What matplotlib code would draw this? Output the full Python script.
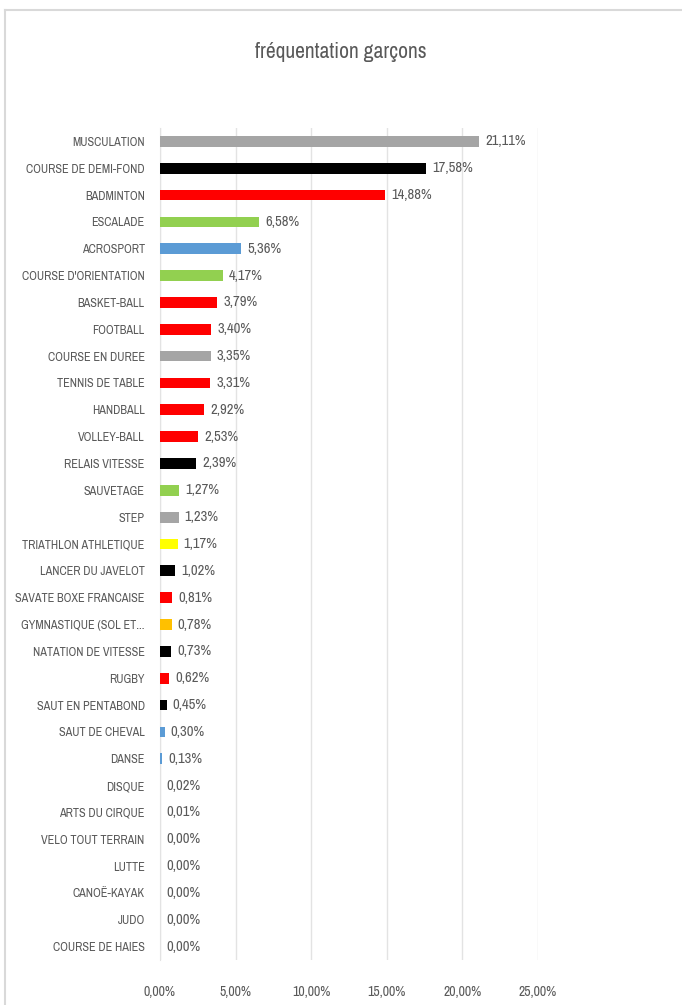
import matplotlib
matplotlib.use("Agg")
import matplotlib.pyplot as plt
from matplotlib import font_manager
from matplotlib.ticker import FuncFormatter

names = sorted({f.name for f in font_manager.fontManager.ttflist})
narrow = [n for n in names if "Narrow" in n]
family = narrow[0] if narrow else "DejaVu Sans"
plt.rcParams["font.family"] = [family, "DejaVu Sans"]

categories = [
  "MUSCULATION", "COURSE DE DEMI-FOND", "BADMINTON", "ESCALADE", "ACROSPORT",
  "COURSE D'ORIENTATION", "BASKET-BALL", "FOOTBALL", "COURSE EN DUREE",
  "TENNIS DE TABLE", "HANDBALL", "VOLLEY-BALL", "RELAIS VITESSE", "SAUVETAGE",
  "STEP", "TRIATHLON ATHLETIQUE", "LANCER DU JAVELOT", "SAVATE BOXE FRANCAISE",
  "GYMNASTIQUE (SOL ET...", "NATATION DE VITESSE", "RUGBY", "SAUT EN PENTABOND",
  "SAUT DE CHEVAL", "DANSE", "DISQUE", "ARTS DU CIRQUE", "VELO TOUT TERRAIN",
  "LUTTE", "CANOË-KAYAK", "JUDO", "COURSE DE HAIES",
]
values = [
  21.11, 17.58, 14.88, 6.58, 5.36, 4.17, 3.79, 3.40, 3.35, 3.31, 2.92, 2.53,
  2.39, 1.27, 1.23, 1.17, 1.02, 0.81, 0.78, 0.73, 0.62, 0.45, 0.30, 0.13,
  0.02, 0.01, 0.00, 0.00, 0.00, 0.00, 0.00,
]
colors = [
  "#A5A5A5", "#000000", "#FF0000", "#92D050", "#5B9BD5", "#92D050", "#FF0000",
  "#FF0000", "#A5A5A5", "#FF0000", "#FF0000", "#FF0000", "#000000", "#92D050",
  "#A5A5A5", "#FFFF00", "#000000", "#FF0000", "#FFC000", "#000000", "#FF0000",
  "#000000", "#5B9BD5", "#5B9BD5", "#5B9BD5", "#5B9BD5", "#5B9BD5", "#5B9BD5",
  "#5B9BD5", "#5B9BD5", "#5B9BD5",
]
xticks = [0, 5, 10, 15, 20, 25]

text_color = "#595959"
grid_color = "#E3E3E3"

fig = plt.figure(figsize=(6.82, 10.05), dpi=100)
ax = fig.add_axes([160 / 682, 1 - 960 / 1005, 378 / 682, 832 / 1005])

ypos = list(range(len(categories)))
ax.barh(ypos, values, height=0.4, color=colors, zorder=3)
for y, v in zip(ypos, values):
  ax.text(v + 0.4, y, f"{v:.2f}%".replace(".", ","), va="center", ha="left",
          fontsize=10.5, color=text_color)

ax.set_ylim(len(categories) - 0.5, -0.5)
ax.set_xlim(0, 25)
ax.set_yticks(ypos)
ax.set_yticklabels(categories, fontsize=8.8)
ax.set_xticks(xticks)
ax.xaxis.set_major_formatter(FuncFormatter(lambda x, p: f"{x:.2f}%".replace(".", ",")))
ax.tick_params(axis="both", length=0, labelcolor=text_color)
ax.tick_params(axis="x", pad=18, labelsize=10)
ax.tick_params(axis="y", pad=11)
ax.grid(axis="x", color=grid_color, linewidth=1, zorder=0)
for s in ax.spines.values():
  s.set_visible(False)
ax.spines["left"].set_visible(True)
ax.spines["left"].set_color(grid_color)

fig.text(0.5, 1 - 52 / 1005, "fréquentation garçons", ha="center", va="center",
         fontsize=15.5, color=text_color)

# chart frame (top and left edges)
fig.add_artist(plt.Line2D([5 / 682, 1], [1 - 10 / 1005, 1 - 10 / 1005], transform=fig.transFigure, color="#D9D9D9", lw=1.5))
fig.add_artist(plt.Line2D([5 / 682, 5 / 682], [0, 1 - 10 / 1005], transform=fig.transFigure, color="#D9D9D9", lw=1.5))

fig.savefig("out.png", dpi=100)
